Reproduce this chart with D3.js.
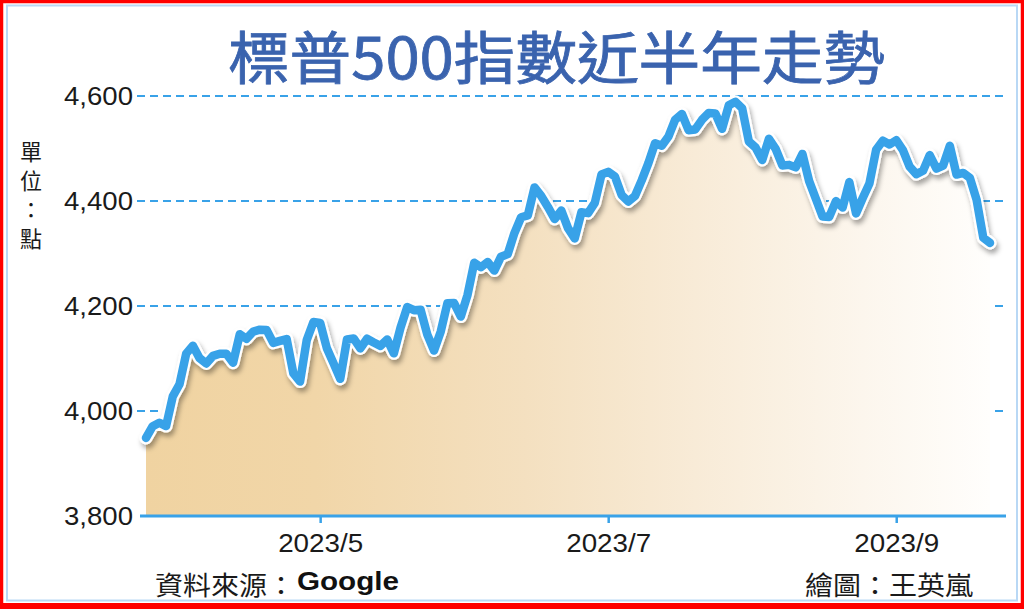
<!DOCTYPE html>
<html>
<head>
<meta charset="utf-8">
<script src="https://cdn.jsdelivr.net/npm/d3@7"></script>
<style>
  html, body { margin: 0; padding: 0; background: #ffffff; }
  svg { display: block; }
</style>
</head>
<body>
<svg id="chart" width="1024" height="609"></svg>
<script>
// ---- data (S&P 500 daily closes) ----
const dates = [
  "2023-03-23","2023-03-24","2023-03-27","2023-03-28","2023-03-29","2023-03-30","2023-03-31",
  "2023-04-03","2023-04-04","2023-04-05","2023-04-06","2023-04-10","2023-04-11","2023-04-12","2023-04-13","2023-04-14",
  "2023-04-17","2023-04-18","2023-04-19","2023-04-20","2023-04-21","2023-04-24","2023-04-25","2023-04-26","2023-04-27","2023-04-28",
  "2023-05-01","2023-05-02","2023-05-03","2023-05-04","2023-05-05","2023-05-08","2023-05-09","2023-05-10","2023-05-11","2023-05-12",
  "2023-05-15","2023-05-16","2023-05-17","2023-05-18","2023-05-19","2023-05-22","2023-05-23","2023-05-24","2023-05-25","2023-05-26",
  "2023-05-30","2023-05-31",
  "2023-06-01","2023-06-02","2023-06-05","2023-06-06","2023-06-07","2023-06-08","2023-06-09","2023-06-12","2023-06-13","2023-06-14",
  "2023-06-15","2023-06-16","2023-06-20","2023-06-21","2023-06-22","2023-06-23","2023-06-26","2023-06-27","2023-06-28","2023-06-29","2023-06-30",
  "2023-07-03","2023-07-05","2023-07-06","2023-07-07","2023-07-10","2023-07-11","2023-07-12","2023-07-13","2023-07-14",
  "2023-07-17","2023-07-18","2023-07-19","2023-07-20","2023-07-21","2023-07-24","2023-07-25","2023-07-26","2023-07-27","2023-07-28","2023-07-31",
  "2023-08-01","2023-08-02","2023-08-03","2023-08-04","2023-08-07","2023-08-08","2023-08-09","2023-08-10","2023-08-11",
  "2023-08-14","2023-08-15","2023-08-16","2023-08-17","2023-08-18","2023-08-21","2023-08-22","2023-08-23","2023-08-24","2023-08-25",
  "2023-08-28","2023-08-29","2023-08-30","2023-08-31",
  "2023-09-01","2023-09-05","2023-09-06","2023-09-07","2023-09-08","2023-09-11","2023-09-12","2023-09-13","2023-09-14","2023-09-15",
  "2023-09-18","2023-09-19","2023-09-20","2023-09-21","2023-09-22"
];
const closes = [
  3948.72,3970.99,3977.53,3971.27,4027.81,4050.83,4109.31,
  4124.51,4100.60,4090.38,4105.02,4109.11,4108.94,4091.95,4146.22,4137.64,
  4151.32,4154.87,4154.52,4129.79,4133.52,4137.04,4071.63,4055.99,4135.35,4169.48,
  4167.87,4119.58,4090.75,4061.22,4136.25,4138.12,4119.17,4137.64,4130.62,4124.08,
  4136.28,4109.90,4158.77,4198.05,4191.98,4192.63,4145.58,4115.24,4151.28,4205.45,
  4205.52,4179.83,
  4221.02,4282.37,4273.79,4283.85,4267.52,4293.93,4298.86,4338.93,4369.01,4372.59,
  4425.84,4409.59,4388.71,4365.69,4381.89,4348.33,4328.82,4378.41,4376.86,4396.44,4450.38,
  4455.59,4446.82,4411.59,4398.95,4409.53,4439.26,4472.16,4510.04,4505.42,
  4522.79,4554.98,4565.72,4534.87,4536.34,4554.64,4567.46,4566.75,4537.41,4582.23,4588.96,
  4576.73,4513.39,4501.89,4478.03,4518.44,4499.38,4467.71,4468.83,4464.05,
  4489.72,4437.86,4404.33,4370.36,4369.71,4399.77,4387.55,4436.01,4376.31,4405.71,
  4433.31,4497.63,4514.87,4507.66,
  4515.77,4496.83,4465.48,4451.14,4457.49,4487.46,4461.90,4467.44,4505.10,4450.32,
  4453.53,4443.95,4402.20,4330.00,4320.06
];
const yTicks = [3800, 4000, 4200, 4400, 4600];
const xTickDates = ["2023-05-01", "2023-07-03", "2023-09-01"];
const xTickLabels = ["2023/5", "2023/7", "2023/9"];
const titleText = "標普500指數近半年走勢";
const unitChars = ["單", "位", "：", "點"];
const sourceText = "資料來源：";
const sourceName = "Google";
const creditText = "繪圖：王英嵐";

// ---- layout ----
const svg = d3.select("#chart");
const W = 1024, H = 609;
const blue = "#39a2e8";
const cjk = "'Noto Sans CJK TC', 'Noto Sans CJK SC', sans-serif";
const latin = "'Liberation Sans', Arial, sans-serif";

const series = dates.map((d, i) => ({ d, v: closes[i] }));

const x = d3.scalePoint().domain(dates).range([146, 990]);
const y = d3.scaleLinear().domain([3800, 4600]).range([516, 96]);

// defs
const defs = svg.append("defs");
const grad = defs.append("linearGradient")
  .attr("id", "areaGrad").attr("gradientUnits", "userSpaceOnUse")
  .attr("x1", 146).attr("x2", 990).attr("y1", 0).attr("y2", 0);
[[0, "#f0d3a1"], [0.2, "#f1d6a8"], [0.45, "#f4e0c0"], [0.65, "#f8ebd7"], [0.85, "#fcf6ed"], [1, "#fffefc"]]
  .forEach(([o, c]) => grad.append("stop").attr("offset", o).attr("stop-color", c));

const filt = defs.append("filter").attr("id", "shadow")
  .attr("x", "-5%").attr("y", "-10%").attr("width", "110%").attr("height", "130%");
filt.append("feDropShadow").attr("dx", 2).attr("dy", 4).attr("stdDeviation", 2.5)
  .attr("flood-color", "#000").attr("flood-opacity", 0.35);

// background
svg.append("rect").attr("x", 0).attr("y", 0).attr("width", W).attr("height", H).attr("fill", "#ffffff");

// gridlines
svg.append("g").selectAll("line").data(yTicks.filter(t => t !== 3800)).join("line")
  .attr("x1", 137).attr("x2", 1004)
  .attr("y1", d => y(d)).attr("y2", d => y(d))
  .attr("stroke", blue).attr("stroke-width", 2).attr("stroke-dasharray", "8,5");

// area
const area = d3.area().x(p => x(p.d)).y0(y(3800)).y1(p => y(p.v));
svg.append("path").datum(series).attr("d", area).attr("fill", "url(#areaGrad)");

// line with white outline and shadow
const line = d3.line().x(p => x(p.d)).y(p => y(p.v));
const lg = svg.append("g").attr("filter", "url(#shadow)");
lg.append("path").datum(series).attr("d", line)
  .attr("fill", "none").attr("stroke", "#ffffff").attr("stroke-width", 13)
  .attr("stroke-linejoin", "round").attr("stroke-linecap", "round");
lg.append("path").datum(series).attr("d", line)
  .attr("fill", "none").attr("stroke", blue).attr("stroke-width", 8.5)
  .attr("stroke-linejoin", "round").attr("stroke-linecap", "round");

// x axis
const xAxis = d3.axisBottom(x)
  .tickValues(xTickDates)
  .tickFormat((d, i) => xTickLabels[i])
  .tickSize(7).tickPadding(11);
const gx = svg.append("g").attr("transform", `translate(0,${y(3800)})`).call(xAxis);
gx.select(".domain").remove();
gx.insert("line", ":first-child").attr("x1", 140).attr("x2", 1006).attr("y1", 0).attr("y2", 0)
  .attr("stroke", blue).attr("stroke-width", 3);
gx.selectAll(".tick line").attr("stroke", blue).attr("stroke-width", 2.5);
gx.selectAll(".tick text").attr("fill", "#1a1a1a")
  .style("font-family", latin).style("font-size", "26px")
  .attr("textLength", 85).attr("lengthAdjust", "spacingAndGlyphs");

// y axis labels
const yAxis = d3.axisLeft(y).tickValues(yTicks).tickFormat(d3.format(",")).tickSize(0).tickPadding(0);
const gy = svg.append("g").attr("transform", "translate(133,0)").call(yAxis);
gy.select(".domain").remove();
gy.selectAll(".tick text").attr("fill", "#1a1a1a")
  .style("font-family", latin).style("font-size", "25px")
  .attr("textLength", 69).attr("lengthAdjust", "spacingAndGlyphs");

// unit label (vertical)
svg.append("g").selectAll("text").data(unitChars).join("text")
  .attr("x", 31).attr("y", (d, i) => 150 + i * 29)
  .attr("text-anchor", "middle").attr("dominant-baseline", "central")
  .style("font-family", cjk).style("font-size", "22px").attr("fill", "#1a1a1a")
  .text(d => d);

// title
svg.append("text").attr("x", 228).attr("y", 54)
  .attr("dominant-baseline", "central")
  .attr("textLength", 657).attr("lengthAdjust", "spacingAndGlyphs")
  .style("font-family", cjk).style("font-size", "57px").style("font-weight", 400)
  .attr("fill", "#3a63ae").attr("stroke", "#3a63ae").attr("stroke-width", 0.8)
  .text(titleText);

// footer
svg.append("text").attr("x", 155).attr("y", 583).attr("dominant-baseline", "central")
  .attr("textLength", 140).attr("lengthAdjust", "spacingAndGlyphs")
  .style("font-family", cjk).style("font-size", "26px").attr("fill", "#1a1a1a").text(sourceText);
svg.append("text").attr("x", 297).attr("y", 590)
  .attr("textLength", 102).attr("lengthAdjust", "spacingAndGlyphs")
  .style("font-family", latin).style("font-size", "25px").style("font-weight", "bold")
  .attr("fill", "#111").text(sourceName);
svg.append("text").attr("x", 805).attr("y", 583).attr("dominant-baseline", "central")
  .attr("textLength", 168).attr("lengthAdjust", "spacingAndGlyphs")
  .style("font-family", cjk).style("font-size", "26px").attr("fill", "#1a1a1a").text(creditText);

// frame
svg.append("rect").attr("x", 7).attr("y", 5.5).attr("width", 1010).attr("height", 595)
  .attr("fill", "none").attr("stroke", "#b9d8f5").attr("stroke-width", 2);
svg.append("rect").attr("x", 1.5).attr("y", 1.5).attr("width", W - 3).attr("height", H - 4)
  .attr("fill", "none").attr("stroke", "#ff0000").attr("stroke-width", 3.5);
svg.append("rect").attr("x", 0).attr("y", 603).attr("width", W).attr("height", 6).attr("fill", "#ff0000");
</script>
</body>
</html>
